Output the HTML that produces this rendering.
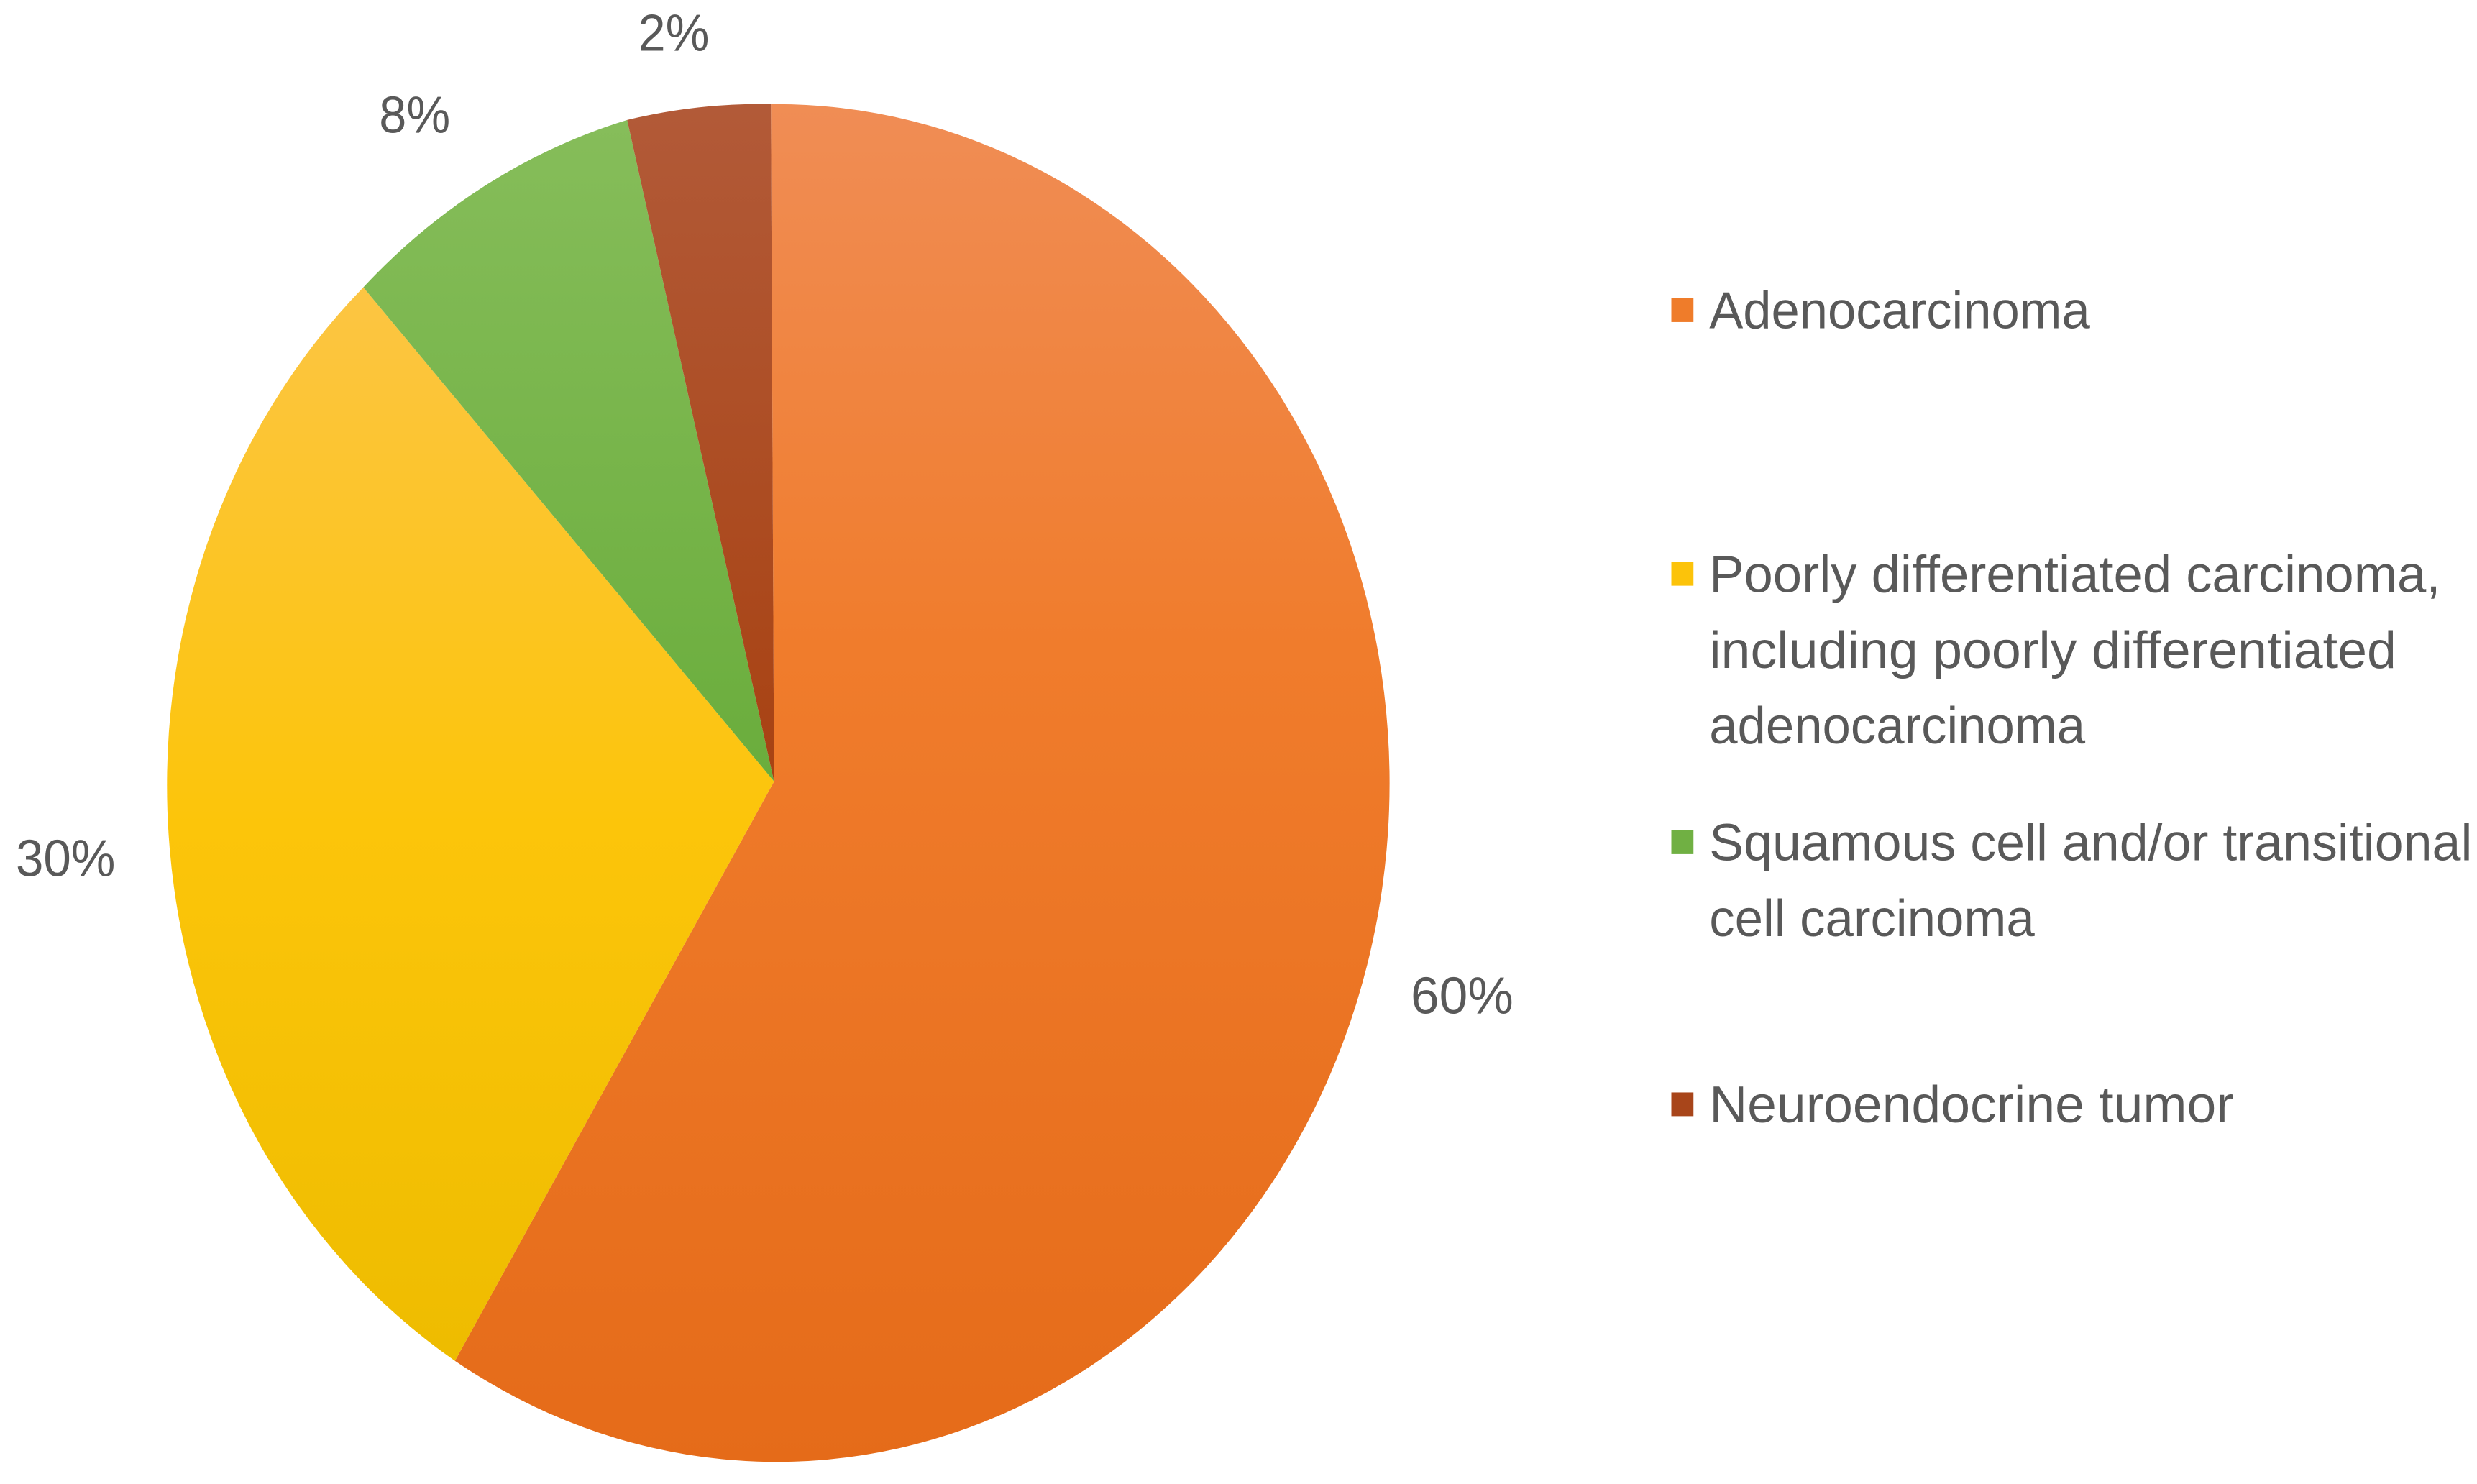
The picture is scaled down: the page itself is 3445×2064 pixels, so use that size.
<!DOCTYPE html>
<html><head><meta charset="utf-8"><style>
html,body{margin:0;padding:0;background:#fff;width:3445px;height:2064px;overflow:hidden}
svg{display:block}
text{font-family:"Liberation Sans Narrow","Liberation Sans",sans-serif;fill:#595959;font-size:33px}
</style></head><body>
<svg width="3445" height="2064" viewBox="0 0 1568 940" preserveAspectRatio="none">
<defs>
<linearGradient id="go" x1="0" y1="0" x2="0" y2="1"><stop offset="0" stop-color="#f08d55"/><stop offset="0.4" stop-color="#f07c2c"/><stop offset="1" stop-color="#e56b19"/></linearGradient>
<linearGradient id="gy" x1="0" y1="0" x2="0" y2="1"><stop offset="0" stop-color="#fcc543"/><stop offset="0.5" stop-color="#fcc50a"/><stop offset="1" stop-color="#eebc00"/></linearGradient>
<linearGradient id="gg" x1="0" y1="0" x2="0" y2="1"><stop offset="0" stop-color="#86bd5a"/><stop offset="1" stop-color="#6aad3c"/></linearGradient>
<linearGradient id="gb" x1="0" y1="0" x2="0" y2="1"><stop offset="0" stop-color="#b25a38"/><stop offset="1" stop-color="#a84212"/></linearGradient>
</defs>
<path d="M490,495 L488,66 A388,430 0 1 1 288,862 Z" fill="url(#go)"/>
<path d="M490,495 L288,862 A388,430 0 0 1 230,182 Z" fill="url(#gy)"/>
<path d="M490,495 L230,182 A388,430 0 0 1 397,76 Z" fill="url(#gg)"/>
<path d="M490,495 L397,76 A388,430 0 0 1 488,66 Z" fill="url(#gb)"/>
<g lengthAdjust="spacingAndGlyphs">
<text x="404" y="32" textLength="45" lengthAdjust="spacingAndGlyphs">2%</text>
<text x="240" y="84" textLength="45" lengthAdjust="spacingAndGlyphs">8%</text>
<text x="10" y="555" textLength="63" lengthAdjust="spacingAndGlyphs">30%</text>
<text x="893" y="642" textLength="65" lengthAdjust="spacingAndGlyphs">60%</text>
<rect x="1058" y="189" width="14" height="15" fill="#ef7c2a"/>
<text x="1082" y="208" textLength="241" lengthAdjust="spacingAndGlyphs">Adenocarcinoma</text>
<rect x="1058" y="356" width="14" height="15" fill="#fcc30a"/>
<text x="1082" y="375" textLength="463" lengthAdjust="spacingAndGlyphs">Poorly differentiated carcinoma,</text>
<text x="1082" y="423" textLength="435" lengthAdjust="spacingAndGlyphs">including poorly differentiated</text>
<text x="1082" y="471" textLength="238" lengthAdjust="spacingAndGlyphs">adenocarcinoma</text>
<rect x="1058" y="526" width="14" height="15" fill="#70b043"/>
<text x="1082" y="545" textLength="483" lengthAdjust="spacingAndGlyphs">Squamous cell and/or transitional</text>
<text x="1082" y="593" textLength="206" lengthAdjust="spacingAndGlyphs">cell carcinoma</text>
<rect x="1058" y="692" width="14" height="15" fill="#a8451a"/>
<text x="1082" y="711" textLength="332" lengthAdjust="spacingAndGlyphs">Neuroendocrine tumor</text>
</g>
</svg>
</body></html>
